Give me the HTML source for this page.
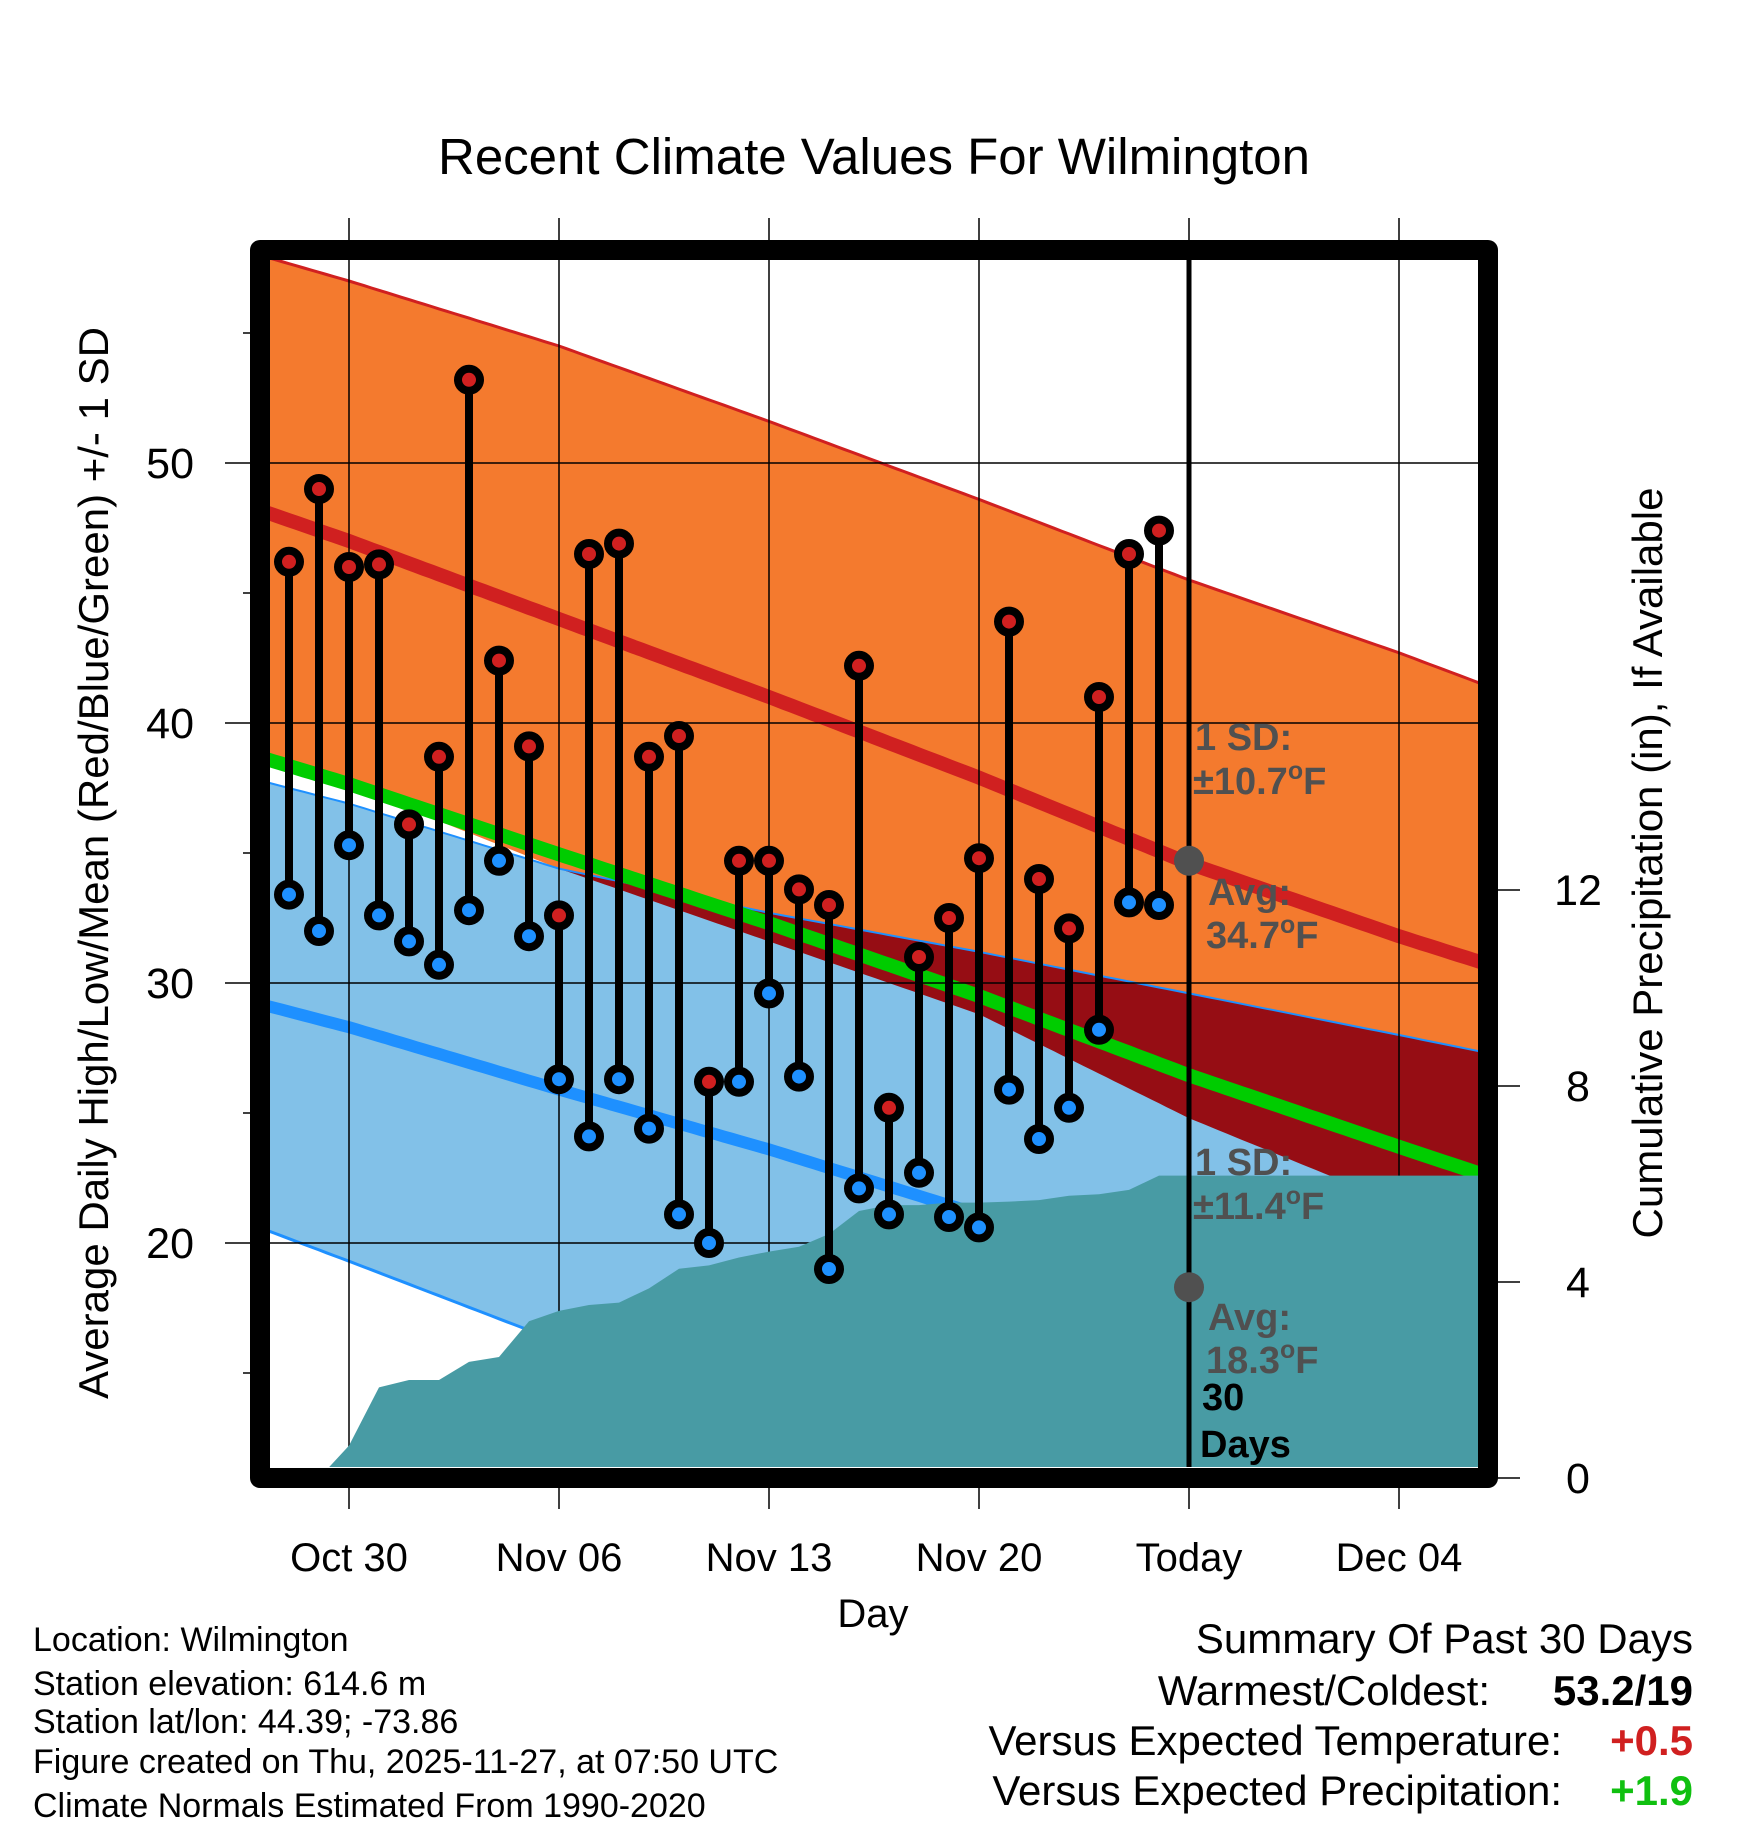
<!DOCTYPE html>
<html><head><meta charset="utf-8"><style>
html,body{margin:0;padding:0;background:#fff}
svg{display:block}
text{font-family:"Liberation Sans",Arial,sans-serif}
</style></head><body>
<svg id="chart" xmlns="http://www.w3.org/2000/svg" width="1748" height="1828" viewBox="0 0 1748 1828">
<defs><clipPath id="plotclip"><rect x="270" y="260" width="1208" height="1207"/></clipPath></defs>
<text x="874" y="174" font-size="51" text-anchor="middle">Recent Climate Values For Wilmington</text>
<g id="bands" clip-path="url(#plotclip)"></g>
<g id="axes"></g>
<g id="marks"></g>
<g id="notes"></g>
<text transform="translate(108,863) rotate(-90)" font-size="42" text-anchor="middle">Average Daily High/Low/Mean (Red/Blue/Green) +/- 1 SD</text>
<text transform="translate(1662,863) rotate(-90)" font-size="42" text-anchor="middle">Cumulative Precipitation (in), If Available</text>
<text x="873" y="1627" font-size="40" text-anchor="middle">Day</text>
<g font-size="34">
<text x="33" y="1651">Location: Wilmington</text>
<text x="33" y="1695">Station elevation: 614.6 m</text>
<text x="33" y="1733">Station lat/lon: 44.39; -73.86</text>
<text x="33" y="1773">Figure created on Thu, 2025-11-27, at 07:50 UTC</text>
<text x="33" y="1817">Climate Normals Estimated From 1990-2020</text>
</g>
<g font-size="42">
<text x="1693" y="1653" text-anchor="end">Summary Of Past 30 Days</text>
<text x="1490" y="1705" text-anchor="end">Warmest/Coldest:</text>
<text x="1693" y="1705" text-anchor="end" font-weight="bold">53.2/19</text>
<text x="1562" y="1755" text-anchor="end">Versus Expected Temperature:</text>
<text x="1693" y="1755" text-anchor="end" font-weight="bold" fill="#d02020">+0.5</text>
<text x="1562" y="1805" text-anchor="end">Versus Expected Precipitation:</text>
<text x="1693" y="1805" text-anchor="end" font-weight="bold" fill="#10c010">+1.9</text>
</g>
</svg>
<script>
// ---- data ----
const normDays = [-3, 0, 7, 14, 21, 28, 35, 38];
const highUpper = [58.0, 57.0, 54.5, 51.6, 48.6, 45.5, 42.7, 41.4];
const highMean = [48.2, 47.0, 44.0, 41.0, 37.9, 34.6, 31.8, 30.7];
const highLower = [38.8, 37.6, 34.4, 31.6, 28.8, 24.8, 21.5, 20.3];
const lowUpper = [37.8, 36.9, 34.4, 32.7, 31.2, 29.6, 28.0, 27.3];
const lowMean = [29.2, 28.3, 25.9, 23.6, 21.1, 18.3, 15.6, 14.4];
const lowLower = [20.6, 19.3, 16.2, 13.1, 10.0, 6.9, 3.8, 2.5];
const obsDays = [-2,-1,0,1,2,3,4,5,6,7,8,9,10,11,12,13,14,15,16,17,18,19,20,21,22,23,24,25,26,27];
const highs = [46.2,49.0,46.0,46.1,36.1,38.7,53.2,42.4,39.1,32.6,46.5,46.9,38.7,39.5,26.2,34.7,34.7,33.6,33.0,42.2,25.2,31.0,32.5,34.8,43.9,34.0,32.1,41.0,46.5,47.4];
const lows = [33.4,32.0,35.3,32.6,31.6,30.7,32.8,34.7,31.8,26.3,24.1,26.3,24.4,21.1,20.0,26.2,29.6,26.4,19.0,22.1,21.1,22.7,21.0,20.6,25.9,24.0,25.2,28.2,33.1,33.0];
const precip = [0,0,0.66,1.85,2.0,2.0,2.37,2.47,3.2,3.41,3.53,3.58,3.87,4.27,4.34,4.5,4.62,4.72,4.98,5.45,5.57,5.57,5.62,5.62,5.64,5.67,5.76,5.79,5.88,6.17];
const xTickDays = [0,7,14,21,28,35];
const xTickLabels = ["Oct 30","Nov 06","Nov 13","Nov 20","Today","Dec 04"];
const yTicks = [20,30,40,50];
const yMinor = [15,25,35,45,55];
const pTicks = [0,4,8,12];
const todayDay = 28, sdHigh = "±10.7", sdLow = "±11.4", avgHigh = "34.7", avgLow = "18.3";

// ---- scales ----
const X = d => 349 + 30*d;
const Y = t => 463 + (50 - t)*26;
const P = p => 1478 - 49*p;
const NS = "http://www.w3.org/2000/svg";
function mk(tag, parent, attrs){const e=document.createElementNS(NS,tag);for(const k in attrs)e.setAttribute(k,attrs[k]);parent.appendChild(e);return e;}
function interp(arr, d){for(let i=0;i<normDays.length-1;i++){if(d<=normDays[i+1]||i===normDays.length-2){const t=(d-normDays[i])/(normDays[i+1]-normDays[i]);return arr[i]+t*(arr[i+1]-arr[i]);}}}
const samples=[];for(let d=-3;d<=38.01;d+=0.25)samples.push(d);
const hU=d=>interp(highUpper,d), hM=d=>interp(highMean,d), hL=d=>interp(highLower,d);
const lU=d=>interp(lowUpper,d), lM=d=>interp(lowMean,d), lL=d=>interp(lowLower,d);
const pts=(f)=>samples.map(d=>X(d).toFixed(1)+","+Y(f(d)).toFixed(1));
const bandsG=document.getElementById('bands');

let e;
e=mk('polygon',bandsG,{points:pts(hU).concat(pts(hL).reverse()).join(' '),fill:'#f47a2e'});


e=mk('polygon',bandsG,{points:pts(lU).concat(pts(lL).reverse()).join(' '),fill:'#82c1e8'});


const ovTop=d=>Math.min(hU(d),lU(d)), ovBot=d=>Math.min(Math.max(hL(d),lL(d)),ovTop(d));
e=mk('polygon',bandsG,{points:pts(ovTop).concat(pts(ovBot).reverse()).join(' '),fill:'#960d14'});


e=mk('polyline',bandsG,{points:pts(hU).join(' '),fill:'none',stroke:'#d02020','stroke-width':3});


e=mk('polyline',bandsG,{points:pts(lU).join(' '),fill:'none',stroke:'#1e90ff','stroke-width':2});


e=mk('polyline',bandsG,{points:pts(lL).join(' '),fill:'none',stroke:'#1e90ff','stroke-width':3});


e=mk('polyline',bandsG,{points:pts(d=>(hM(d)+lM(d))/2).join(' '),fill:'none',stroke:'#00cc00','stroke-width':14});


e=mk('polyline',bandsG,{points:pts(hM).join(' '),fill:'none',stroke:'#d02020','stroke-width':14});


e=mk('polyline',bandsG,{points:pts(lM).join(' '),fill:'none',stroke:'#1e90ff','stroke-width':12});


// grid
const axesG=document.getElementById('axes');
yTicks.forEach(t=>{
  e=mk('line',bandsG,{x1:270,x2:1478,y1:Y(t),y2:Y(t),stroke:'#000','stroke-width':1.5});
  
  
});
xTickDays.forEach((d,i)=>{
  if(d!==todayDay){
  e=mk('line',bandsG,{x1:X(d),x2:X(d),y1:260,y2:1467,stroke:'#000','stroke-width':1.5});
  
  }
  e=mk('line',axesG,{x1:X(d),x2:X(d),y1:218,y2:250,stroke:'#000','stroke-width':1.5});
  
  
  e=mk('line',axesG,{x1:X(d),x2:X(d),y1:1478,y2:1509,stroke:'#000','stroke-width':1.5});
  
  
  e=mk('text',axesG,{x:X(d),y:1571,'font-size':40,'text-anchor':'middle'});
  e.textContent=xTickLabels[i];
  
  
});
yTicks.forEach(t=>{
  e=mk('line',axesG,{x1:225,x2:260,y1:Y(t),y2:Y(t),stroke:'#000','stroke-width':1.5});
  
  
  e=mk('text',axesG,{x:194,y:Y(t)+15,'font-size':43,'text-anchor':'end'});
  e.textContent=t;
  
  
});
yMinor.forEach(t=>{
  e=mk('line',axesG,{x1:243,x2:260,y1:Y(t),y2:Y(t),stroke:'#000','stroke-width':1.5});
  
  
});
pTicks.forEach(p=>{
  e=mk('line',axesG,{x1:1488,x2:1520,y1:P(p),y2:P(p),stroke:'#000','stroke-width':1.5});
  
  
  e=mk('text',axesG,{x:1578,y:P(p)+15,'font-size':43,'text-anchor':'middle'});
  e.textContent=p;
  
  
});
// precip
let pp=obsDays.map((d,i)=>X(d)+","+P(precip[i]));
pp.push(X(38)+","+P(precip[precip.length-1]));
pp.push(X(38)+","+1500);pp.push(X(obsDays[0])+","+1500);
e=mk('polygon',bandsG,{points:pp.join(' '),fill:'#489ba4'});


// today line
e=mk('line',axesG,{x1:X(todayDay),x2:X(todayDay),y1:260,y2:1467,stroke:'#000','stroke-width':5});


// stems
const marksG=document.getElementById('marks');
obsDays.forEach((d,i)=>{
  e=mk('line',marksG,{x1:X(d),x2:X(d),y1:Y(highs[i]),y2:Y(lows[i]),stroke:'#000','stroke-width':8});
  
  
  e=mk('circle',marksG,{cx:X(d),cy:Y(highs[i]),r:11,fill:'#d02020',stroke:'#000','stroke-width':8});
  
  
  e=mk('circle',marksG,{cx:X(d),cy:Y(lows[i]),r:11,fill:'#1e90ff',stroke:'#000','stroke-width':8});
  
  
});
// notes
const notesG=document.getElementById('notes');
e=mk('circle',notesG,{cx:X(todayDay),cy:Y(parseFloat(avgHigh)),r:15,fill:'#505050'});


e=mk('circle',notesG,{cx:X(todayDay),cy:Y(parseFloat(avgLow)),r:15,fill:'#505050'});


function note(x,y,txt,name,fill){const t=mk('text',notesG,{x:x,y:y,'font-size':38,'font-weight':'bold',fill:fill||'#505050'});t.innerHTML=txt;}
const deg='<tspan font-size="25" dy="-15">o</tspan><tspan dy="15">F</tspan>';
note(1195,750,'1 SD:','high-sd-label');
note(1193,794,sdHigh+deg,'high-sd-value');
note(1208,905,'Avg:','high-avg-label');
note(1206,948,avgHigh+deg,'high-avg-value');
note(1195,1175,'1 SD:','low-sd-label');
note(1193,1219,sdLow+deg,'low-sd-value');
note(1208,1330,'Avg:','low-avg-label');
note(1206,1373,avgLow+deg,'low-avg-value');
note(1202,1410,'30','days-count-label','#000');
note(1200,1457,'Days','days-word-label','#000');
// frame
e=mk('rect',document.getElementById('chart'),{x:260,y:250,width:1228,height:1228,fill:'none',stroke:'#000','stroke-width':20,'stroke-linejoin':'round'});


</script>
</body></html>
